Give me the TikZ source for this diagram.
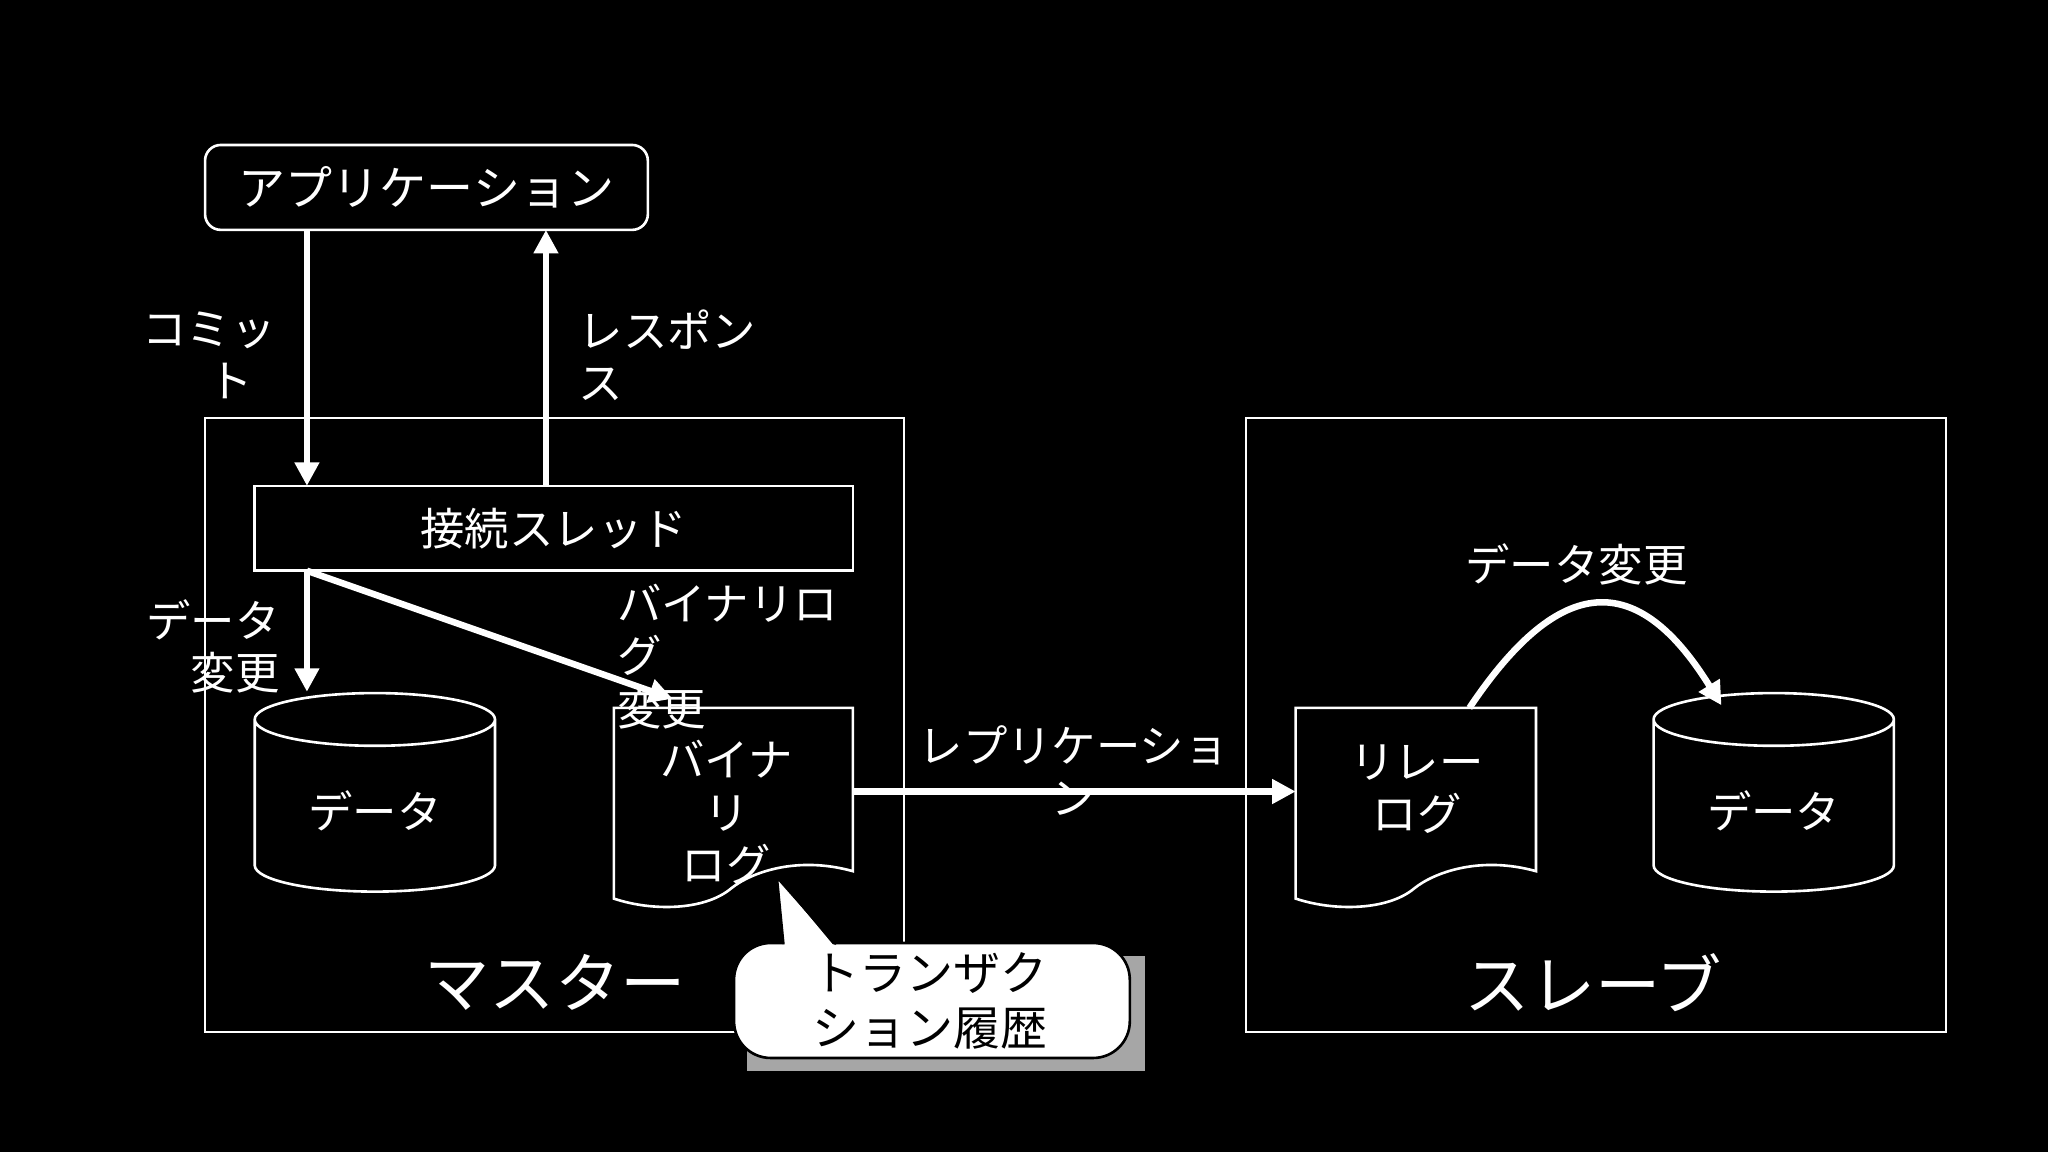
\documentclass[tikz,border=0pt]{standalone}
\usepackage{fontspec}
\setmainfont{Noto Sans CJK JP}
\usetikzlibrary{shapes.geometric,arrows.meta}
\begin{document}
\begin{tikzpicture}[x=0.5pt,y=-0.5pt,
  box/.style={draw=white,line width=1pt,fill=black,text=white,inner sep=0pt},
  lbl/.style={text=white,font=\fontsize{17}{20}\selectfont,align=center,inner sep=0pt},
  arr/.style={draw=white,line width=2.5pt,-{Triangle[length=9pt,width=9pt]}},
  cyl/.style={cylinder,shape border rotate=90,draw=white,line width=1pt,fill=black,aspect=0.35,minimum width=92pt,minimum height=76pt,text=white,font=\fontsize{17}{20}\selectfont}]
\fill[black] (0,0) rectangle (1568,882);
\useasboundingbox (0,0) rectangle (1568,882);
% app
\node[box,rounded corners=6pt,minimum width=169.5pt,minimum height=32.5pt,font=\fontsize{18}{20}\selectfont] (app) at (326.5,143.5) {アプリケーション};
% master and slave
\node[box,minimum width=267.5pt,minimum height=235pt] (master) at (424.5,555) {};
\node[box,minimum width=268pt,minimum height=235pt] (slave) at (1222,555) {};
\node[lbl,font=\fontsize{25}{28}\selectfont] (mlab) at (425,752) {マスター};
\node[lbl,font=\fontsize{25}{28}\selectfont] (slab) at (1220,752) {スレーブ};
% thread
\node[box,minimum width=229pt,minimum height=32.5pt,font=\fontsize{17}{20}\selectfont] (thr) at (424,404.5) {接続スレッド};
\coordinate (cin) at (235,372);
\coordinate (cout) at (235,437);
\coordinate (rout) at (418,372);
\coordinate (ain) at (235,176);
\coordinate (aout) at (418,176);
\draw[arr] (ain) -- (cin);
\draw[arr] (rout) -- (aout);
\node[lbl,align=left] (commit) at (160,272) {コミッ\\\hspace*{1.5em}ト};
\node[lbl,align=left] (resp) at (511,272) {レスポン\\ス};
% data cylinder master
\node[cyl] (d1) at (287,621) {データ};
\draw[arr] (cout) -- (d1.north -| cout);
\node[lbl,align=right] (dc1) at (163,495) {データ\\変更};
% binary log
\draw[white,line width=1pt,fill=black] (470,542) -- (653,542) -- (653,667) .. controls (610,655) and (575,668) .. (560,680) .. controls (540,697) and (500,698) .. (470,688) -- cycle;
\node[lbl] (blog) at (556,622) {バイナ\\リ\\ログ};
\coordinate (bin) at (515,535);
\draw[arr] (cout) -- (bin);
\node[lbl,align=left,anchor=north west] (bc) at (472,447) {バイナリロ\\グ\\変更};
% callout
\fill[gray!70] (572,732) rectangle (877,820);
\draw[black,fill=white,line width=1pt,rounded corners=14pt] (562,722) rectangle (865,810);
\fill[white] (600,726) -- (640,726) -- (595,672) -- cycle;
\draw[black,line width=0.8pt] (600,723) -- (595,672) -- (640,723);
\node[lbl,text=black,font=\fontsize{18}{21}\selectfont] (tx) at (712,766) {トランザク\\ション履歴};
% relay log
\draw[white,line width=1pt,fill=black] (992,542) -- (1176,542) -- (1176,667) .. controls (1133,655) and (1098,668) .. (1083,680) .. controls (1063,697) and (1022,698) .. (992,688) -- cycle;
\node[lbl] (rlog) at (1085,604) {リレー\\ログ};
\coordinate (rin) at (992,606);
\coordinate (bout) at (653,606);
\draw[arr] (bout) -- (rin);
\node[lbl] (rep) at (822,590) {レプリケーショ\\ン};
% slave data
\node[cyl] (d2) at (1358,621) {データ};
\coordinate (rtop) at (1125,542);
\draw[arr] (rtop) .. controls (1190,445) and (1250,430) .. (1318,540);
\node[lbl] (dc2) at (1207,432) {データ変更};
\end{tikzpicture}
\end{document}
